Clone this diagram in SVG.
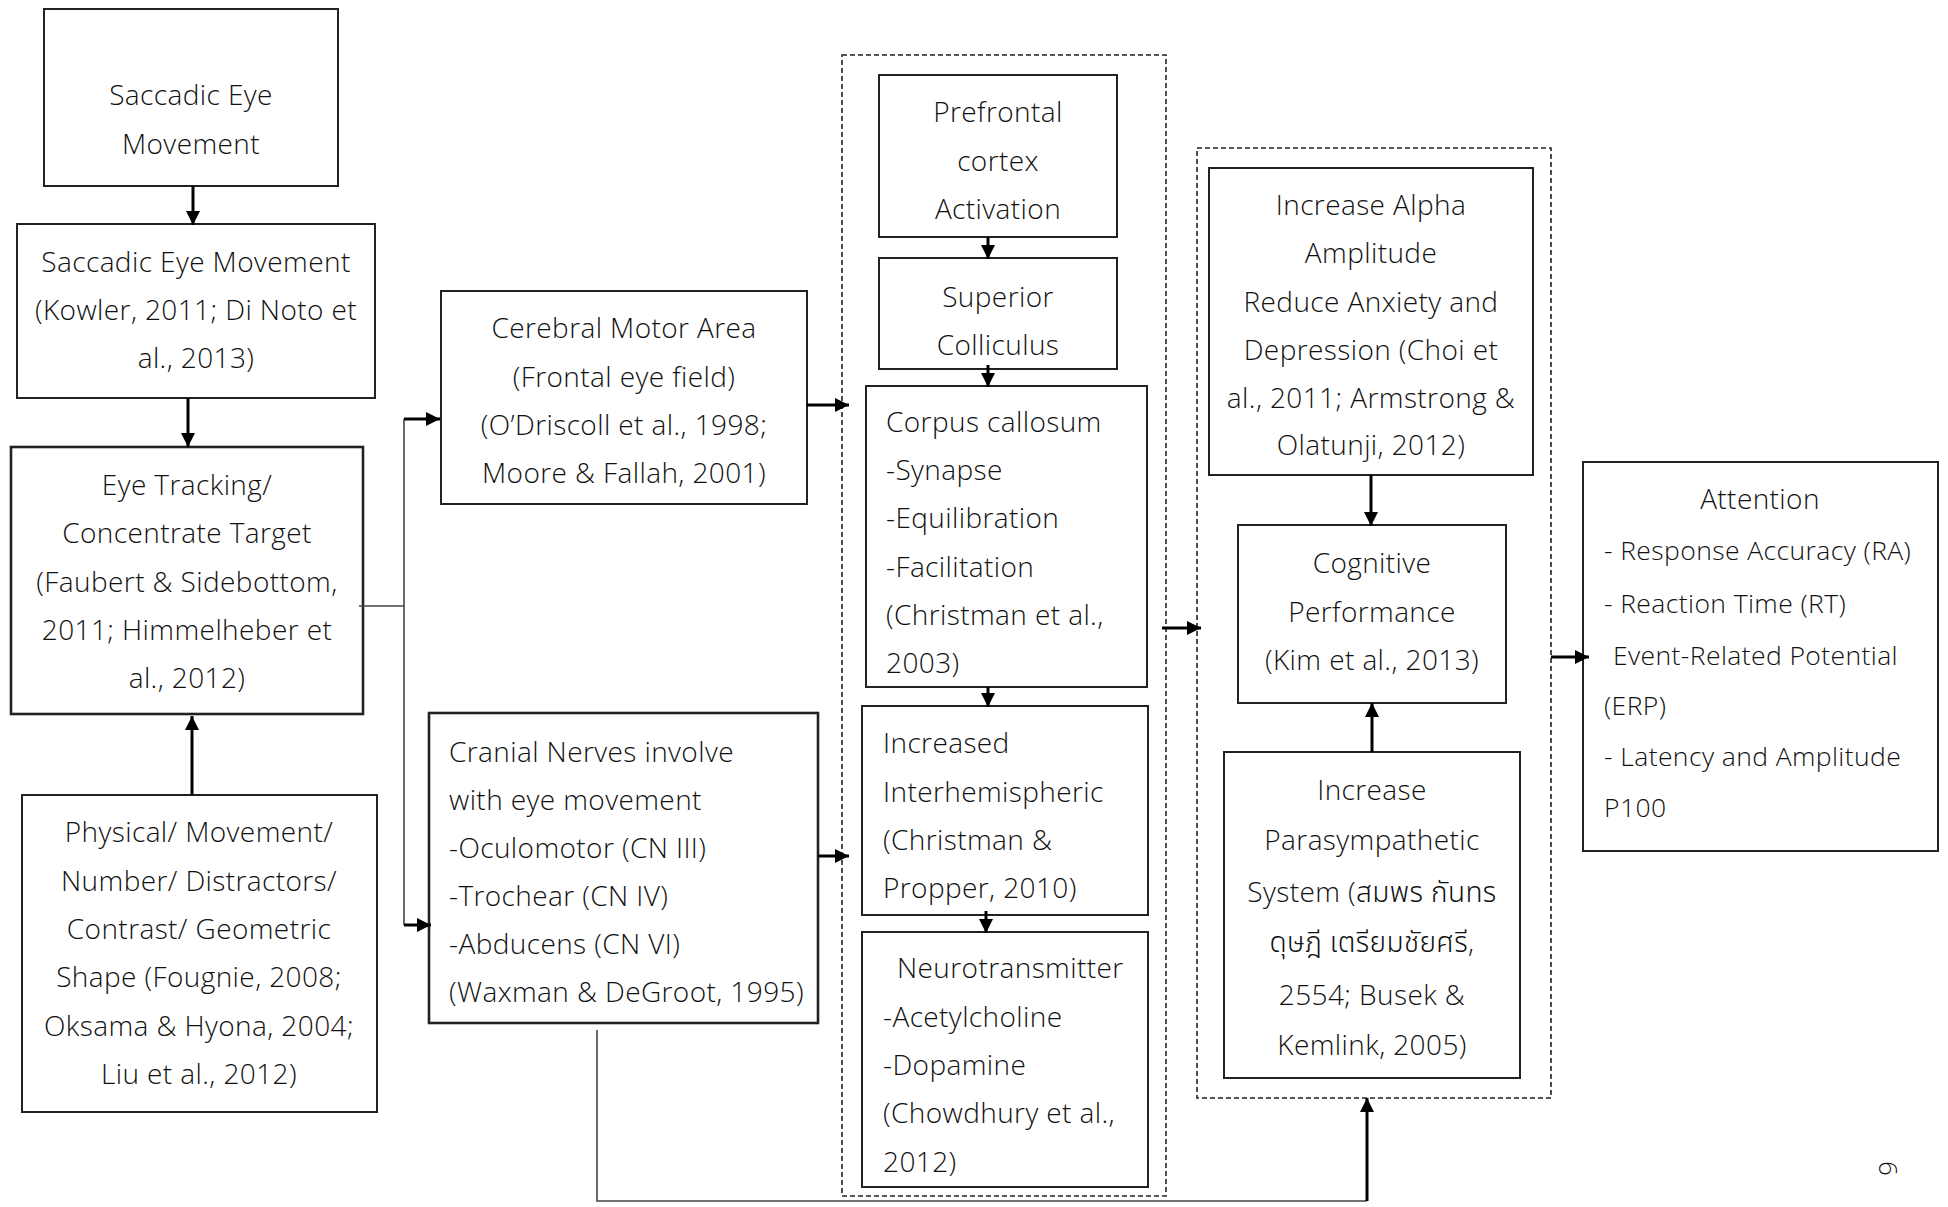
<svg xmlns="http://www.w3.org/2000/svg" width="1948" height="1207" viewBox="0 0 1948 1207">
  <style>
    .box { fill: #fff; stroke: #222; stroke-width: 2; }
    .box.heavy { stroke-width: 2.6; }
    .group { fill: none; stroke: #222; stroke-width: 1.6; stroke-dasharray: 5 3; }
    text { font-family: "Open Sans", "Noto Sans", "Noto Sans Thai", "DejaVu Sans", sans-serif; font-size: 28px; font-weight: 300; letter-spacing: 0.4px; fill: #111; }
    .c { text-anchor: middle; }
    .list { font-size: 26.5px; }
    .arrow { fill: none; stroke: #000; stroke-width: 3; marker-end: url(#head); }
    .thin { fill: none; stroke: #444; stroke-width: 1.6; }
  </style>
  <defs>
    <marker id="head" markerUnits="userSpaceOnUse" markerWidth="14" markerHeight="14" refX="14" refY="7" orient="auto">
      <path d="M0,0 L14,7 L0,14 z" fill="#000"/>
    </marker>
  </defs>
  <rect width="1948" height="1207" fill="#fff"/>

  <!-- dashed groupings -->
  <rect class="group" x="842" y="55" width="324" height="1141"/>
  <rect class="group" x="1197" y="148" width="354" height="950"/>

  <g id="saccade">
    <rect class="box" x="44" y="9" width="294" height="177"/>
    <text class="c" x="191" y="105">Saccadic Eye</text>
    <text class="c" x="191" y="154">Movement</text>
  </g>

  <g id="saccade-ref">
    <rect class="box" x="17" y="224" width="358" height="174"/>
    <text class="c" x="196" y="272">Saccadic Eye Movement</text>
    <text class="c" x="196" y="320">(Kowler, 2011; Di Noto et</text>
    <text class="c" x="196" y="368">al., 2013)</text>
  </g>

  <g id="eye-tracking">
    <rect class="box heavy" x="11" y="447" width="352" height="267"/>
    <text class="c" x="187" y="495">Eye Tracking/</text>
    <text class="c" x="187" y="543">Concentrate Target</text>
    <text class="c" x="187" y="592">(Faubert &amp; Sidebottom,</text>
    <text class="c" x="187" y="640">2011; Himmelheber et</text>
    <text class="c" x="187" y="688">al., 2012)</text>
  </g>

  <g id="stimulus">
    <rect class="box" x="22" y="795" width="355" height="317"/>
    <text class="c" x="199" y="842">Physical/ Movement/</text>
    <text class="c" x="199" y="891">Number/ Distractors/</text>
    <text class="c" x="199" y="939">Contrast/ Geometric</text>
    <text class="c" x="199" y="987">Shape (Fougnie, 2008;</text>
    <text class="c" x="199" y="1036">Oksama &amp; Hyona, 2004;</text>
    <text class="c" x="199" y="1084">Liu et al., 2012)</text>
  </g>

  <g id="motor-area">
    <rect class="box" x="441" y="291" width="366" height="213"/>
    <text class="c" x="624" y="338">Cerebral Motor Area</text>
    <text class="c" x="624" y="387">(Frontal eye field)</text>
    <text class="c" x="624" y="435">(O’Driscoll et al., 1998;</text>
    <text class="c" x="624" y="483">Moore &amp; Fallah, 2001)</text>
  </g>

  <g id="cranial-nerves">
    <rect class="box heavy" x="429" y="713" width="389" height="310"/>
    <text x="449" y="762">Cranial Nerves involve</text>
    <text x="449" y="810">with eye movement</text>
    <text x="449" y="858">-Oculomotor (CN III)</text>
    <text x="449" y="906">-Trochear (CN IV)</text>
    <text x="449" y="954">-Abducens (CN VI)</text>
    <text x="449" y="1002">(Waxman &amp; DeGroot, 1995)</text>
  </g>

  <g id="prefrontal">
    <rect class="box" x="879" y="75" width="238" height="162"/>
    <text class="c" x="998" y="122">Prefrontal</text>
    <text class="c" x="998" y="171">cortex</text>
    <text class="c" x="998" y="219">Activation</text>
  </g>

  <g id="colliculus">
    <rect class="box" x="879" y="258" width="238" height="111"/>
    <text class="c" x="998" y="307">Superior</text>
    <text class="c" x="998" y="355">Colliculus</text>
  </g>

  <g id="corpus-callosum">
    <rect class="box" x="866" y="386" width="281" height="301"/>
    <text x="886" y="432">Corpus callosum</text>
    <text x="886" y="480">-Synapse</text>
    <text x="886" y="528">-Equilibration</text>
    <text x="886" y="577">-Facilitation</text>
    <text x="886" y="625">(Christman et al.,</text>
    <text x="886" y="673">2003)</text>
  </g>

  <g id="interhemispheric">
    <rect class="box" x="862" y="706" width="286" height="209"/>
    <text x="883" y="753">Increased</text>
    <text x="883" y="802">Interhemispheric</text>
    <text x="883" y="850">(Christman &amp;</text>
    <text x="883" y="898">Propper, 2010)</text>
  </g>

  <g id="neurotransmitter">
    <rect class="box" x="862" y="932" width="286" height="255"/>
    <text x="897" y="978">Neurotransmitter</text>
    <text x="883" y="1027">-Acetylcholine</text>
    <text x="883" y="1075">-Dopamine</text>
    <text x="883" y="1123">(Chowdhury et al.,</text>
    <text x="883" y="1172">2012)</text>
  </g>

  <g id="alpha">
    <rect class="box" x="1209" y="168" width="324" height="307"/>
    <text class="c" x="1371" y="215">Increase Alpha</text>
    <text class="c" x="1371" y="263">Amplitude</text>
    <text class="c" x="1371" y="312">Reduce Anxiety and</text>
    <text class="c" x="1371" y="360">Depression (Choi et</text>
    <text class="c" x="1371" y="408">al., 2011; Armstrong &amp;</text>
    <text class="c" x="1371" y="455">Olatunji, 2012)</text>
  </g>

  <g id="cognitive">
    <rect class="box" x="1238" y="525" width="268" height="178"/>
    <text class="c" x="1372" y="573">Cognitive</text>
    <text class="c" x="1372" y="622">Performance</text>
    <text class="c" x="1372" y="670">(Kim et al., 2013)</text>
  </g>

  <g id="parasympathetic">
    <rect class="box" x="1224" y="752" width="296" height="326"/>
    <text class="c" x="1372" y="800">Increase</text>
    <text class="c" x="1372" y="850">Parasympathetic</text>
    <text class="c" x="1372" y="902">System (สมพร กันทร</text>
    <text class="c" x="1372" y="952">ดุษฎี เตรียมชัยศรี,</text>
    <text class="c" x="1372" y="1005">2554; Busek &amp;</text>
    <text class="c" x="1372" y="1055">Kemlink, 2005)</text>
  </g>

  <g id="attention">
    <rect class="box" x="1583" y="462" width="355" height="389"/>
    <text class="c" x="1760" y="509">Attention</text>
    <text class="list" x="1604" y="560">- Response Accuracy (RA)</text>
    <text class="list" x="1604" y="613">- Reaction Time (RT)</text>
    <text class="list" x="1613" y="665">Event-Related Potential</text>
    <text class="list" x="1604" y="715">(ERP)</text>
    <text class="list" x="1604" y="766">- Latency and Amplitude</text>
    <text class="list" x="1604" y="817">P100</text>
  </g>

  <!-- page number, printed sideways -->
  <text x="1879" y="1161" transform="rotate(90 1879 1161)" style="font-size:26px">6</text>

  <g id="connectors">
    <line class="arrow" x1="193" y1="186" x2="193" y2="225"/>
    <line class="arrow" x1="188" y1="398" x2="188" y2="447"/>
    <line class="arrow" x1="192" y1="795" x2="192" y2="716"/>
    <polyline class="thin" points="359,606 404,606"/>
    <polyline class="thin" points="404,419 404,925"/>
    <line class="arrow" x1="404" y1="419" x2="440" y2="419"/>
    <line class="arrow" x1="404" y1="925" x2="431" y2="925"/>
    <line class="arrow" x1="807" y1="405" x2="849" y2="405"/>
    <line class="arrow" x1="818" y1="856" x2="849" y2="856"/>
    <line class="arrow" x1="988" y1="237" x2="988" y2="259"/>
    <line class="arrow" x1="988" y1="365" x2="988" y2="387"/>
    <line class="arrow" x1="988" y1="687" x2="988" y2="707"/>
    <line class="arrow" x1="986" y1="911" x2="986" y2="933"/>
    <line class="arrow" x1="1162" y1="628" x2="1201" y2="628"/>
    <line class="arrow" x1="1371" y1="475" x2="1371" y2="526"/>
    <line class="arrow" x1="1372" y1="752" x2="1372" y2="703"/>
    <polyline class="thin" points="597,1030 597,1201 1367,1201"/>
    <line class="arrow" x1="1367" y1="1201" x2="1367" y2="1098"/>
    <line class="arrow" x1="1551" y1="657" x2="1589" y2="657"/>
  </g>
</svg>
